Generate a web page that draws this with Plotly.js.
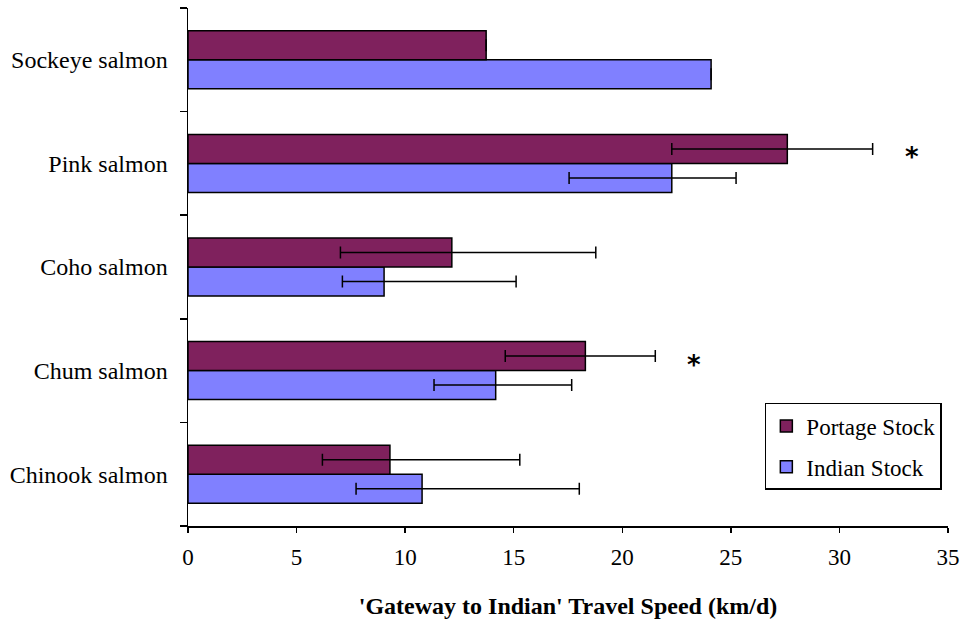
<!DOCTYPE html>
<html>
<head>
<meta charset="utf-8">
<script src="https://cdn.plot.ly/plotly-3.0.1.min.js"></script>
<style>html,body{margin:0;padding:0;background:#fff;}#chart{width:962px;height:623px;}</style>
</head>
<body>
<div id="chart"></div>
<script>
const categories = ["Chinook salmon", "Chum salmon", "Coho salmon", "Pink salmon", "Sockeye salmon"];
const portageSpeed = [9.3, 18.3, 12.15, 27.6, 13.73];
const portageErrPlus = [5.98, 3.22, 6.63, 3.93, null];
const portageErrMinus = [3.11, 3.69, 5.13, 5.32, null];
const indianSpeed = [10.78, 14.17, 9.03, 22.28, 24.09];
const indianErrPlus = [7.24, 3.5, 6.08, 2.96, null];
const indianErrMinus = [3.04, 2.84, 1.92, 4.73, null];
const xTicks = [0, 5, 10, 15, 20, 25, 30, 35];
const sigMarks = [{x: 33.35, cat: "Pink salmon"}, {x: 23.3, cat: "Chum salmon"}];

const serif = "Times New Roman, Liberation Serif, DejaVu Serif, serif";

const traces = [
  {
    type: "bar", orientation: "h", name: "Indian Stock", legendgroup: "indian", legendrank: 2,
    y: categories, x: indianSpeed,
    marker: {color: "#8080FF", line: {color: "#000", width: 1.5}},
    error_x: {type: "data", symmetric: false, array: indianErrPlus, arrayminus: indianErrMinus,
              color: "#000", thickness: 1.5, width: 6}
  },
  {
    type: "bar", orientation: "h", name: "Portage Stock", legendgroup: "portage", legendrank: 1,
    y: categories, x: portageSpeed,
    marker: {color: "#7F215D", line: {color: "#000", width: 1.5}},
    error_x: {type: "data", symmetric: false, array: portageErrPlus, arrayminus: portageErrMinus,
              color: "#000", thickness: 1.5, width: 6}
  }
];

const annotations = sigMarks.map(s => ({
  x: s.x, y: s.cat, xref: "x", yref: "y", text: "<b>*</b>", showarrow: false,
  yshift: 6, font: {family: "DejaVu Sans", size: 26, color: "#000"}
}));

const layout = {
  width: 962, height: 623,
  margin: {l: 188, r: 14, t: 8, b: 97},
  paper_bgcolor: "#fff", plot_bgcolor: "#fff",
  font: {family: serif},
  barmode: "group", bargap: 0.44, bargroupgap: 0,
  showlegend: true,
  legend: {
    x: 0.759, y: 0.2375, xanchor: "left", yanchor: "top",
    traceorder: "grouped",
    bgcolor: "#fff", bordercolor: "#000", borderwidth: 1.5,
    font: {family: serif, size: 23, color: "#000"},
    tracegroupgap: 8, itemwidth: 20
  },
  xaxis: {
    range: [0, 35], tickvals: xTicks, ticktext: xTicks.map(String),
    showgrid: false, zeroline: false,
    showline: true, linecolor: "#000", linewidth: 1.5,
    ticks: "outside", ticklen: 5, tickwidth: 1.5, tickcolor: "#000",
    ticklabelstandoff: 5,
    tickfont: {family: serif, size: 23, color: "#000"},
    title: {text: "'Gateway to Indian' Travel Speed (km/d)", standoff: 28,
            font: {family: serif, size: 24, color: "#000", weight: "bold"}}
  },
  yaxis: {
    type: "category", range: [-0.5, 4.5],
    showgrid: false, zeroline: false,
    showline: true, linecolor: "#000", linewidth: 1.5,
    ticks: "outside", tickson: "boundaries", ticklen: 7, tickwidth: 1.5, tickcolor: "#000",
    ticklabelstandoff: 14,
    tickfont: {family: serif, size: 24, color: "#000"}
  },
  annotations: annotations
};

Plotly.newPlot("chart", traces, layout, {displayModeBar: false, staticPlot: true});
</script>
</body>
</html>
